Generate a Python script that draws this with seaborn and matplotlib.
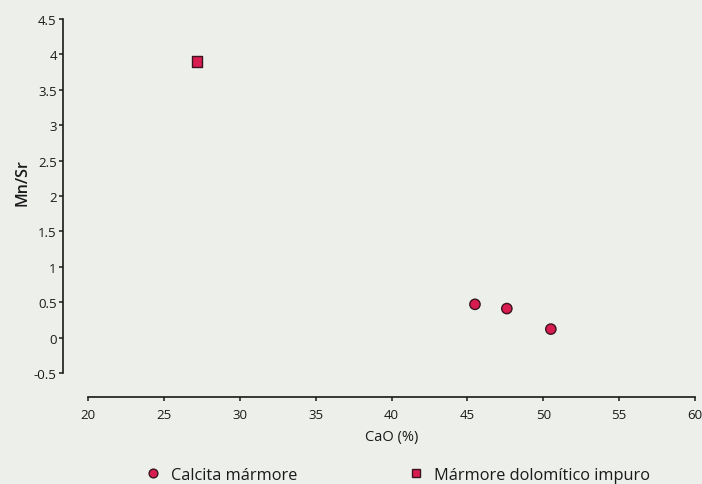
import matplotlib
matplotlib.use("Agg")
import matplotlib.pyplot as plt
import seaborn as sns
import pandas as pd

# CaO (%) versus Mn/Sr ratio for the marble samples
cao = [45.5, 47.6, 50.5, 27.2]
mn_sr = [0.47, 0.41, 0.12, 3.90]
rock_type = ["Calcita mármore", "Calcita mármore", "Calcita mármore",
             "Mármore dolomítico impuro"]

x_ticks = [20, 25, 30, 35, 40, 45, 50, 55, 60]
y_ticks = [-0.5, 0, 0.5, 1, 1.5, 2, 2.5, 3, 3.5, 4, 4.5]
y_tick_labels = ["-0.5", "0", "0.5", "1", "1.5", "2", "2.5", "3", "3.5", "4", "4.5"]

df = pd.DataFrame({"CaO": cao, "MnSr": mn_sr, "Tipo": rock_type})

sns.set_theme(style="ticks")
plt.rcParams["font.family"] = ["Open Sans", "DejaVu Sans"]

bg = "#edefeb"
ink = "#1a1a1a"
fig = plt.figure(figsize=(7.02, 4.85), dpi=100, facecolor=bg)
W, H = 702, 485
ax = fig.add_axes([88 / W, 1 - 374 / H, (695 - 88) / W, (374 - 20) / H])
ax.set_facecolor(bg)

sns.scatterplot(
    data=df, x="CaO", y="MnSr", hue="Tipo", style="Tipo",
    palette={"Calcita mármore": "#d91c4f", "Mármore dolomítico impuro": "#d91c4f"},
    markers={"Calcita mármore": "o", "Mármore dolomítico impuro": "s"},
    s=55, edgecolor="#3a1420", linewidth=1.0, ax=ax, legend=True, zorder=3,
)

ax.set_xlim(20, 60)
ax.set_ylim(-0.5, 4.5)
ax.set_xticks(x_ticks)
ax.set_xticklabels([str(t) for t in x_ticks])
ax.set_yticks(y_ticks)
ax.set_yticklabels(y_tick_labels)

for side in ("top", "right"):
    ax.spines[side].set_visible(False)
ax.spines["left"].set_position(("outward", 18))
ax.spines["bottom"].set_position(("outward", 17.5))
for side in ("left", "bottom"):
    ax.spines[side].set_color(ink)
    ax.spines[side].set_linewidth(1.2)

ax.tick_params(axis="both", which="major", length=3, width=1.1,
               color=ink, labelsize=9.5, labelcolor=ink)
ax.tick_params(axis="x", pad=4.5)
ax.tick_params(axis="y", pad=1.5)
for lbl in ax.get_xticklabels() + ax.get_yticklabels():
    lbl.set_fontweight("medium")

ax.set_xlabel("CaO (%)", fontsize=10.5, color=ink, labelpad=6)
ax.set_ylabel("Mn/Sr", fontsize=11.5, color=ink, fontweight="semibold", labelpad=5)
ax.yaxis.set_label_coords(-0.095, 0.54)

handles, labels = ax.get_legend_handles_labels()
ax.get_legend().remove()
leg = fig.legend(handles, labels, loc="center left", bbox_to_anchor=(146.5 / W, 1 - 476 / H),
                 ncol=2, frameon=False, fontsize=11.8, handlelength=0.8,
                 handletextpad=0.7, columnspacing=6.86, markerscale=0.85,
                 borderpad=0, borderaxespad=0)
for t in leg.get_texts():
    t.set_color(ink)

fig.savefig("out.png", dpi=100, facecolor=bg)
